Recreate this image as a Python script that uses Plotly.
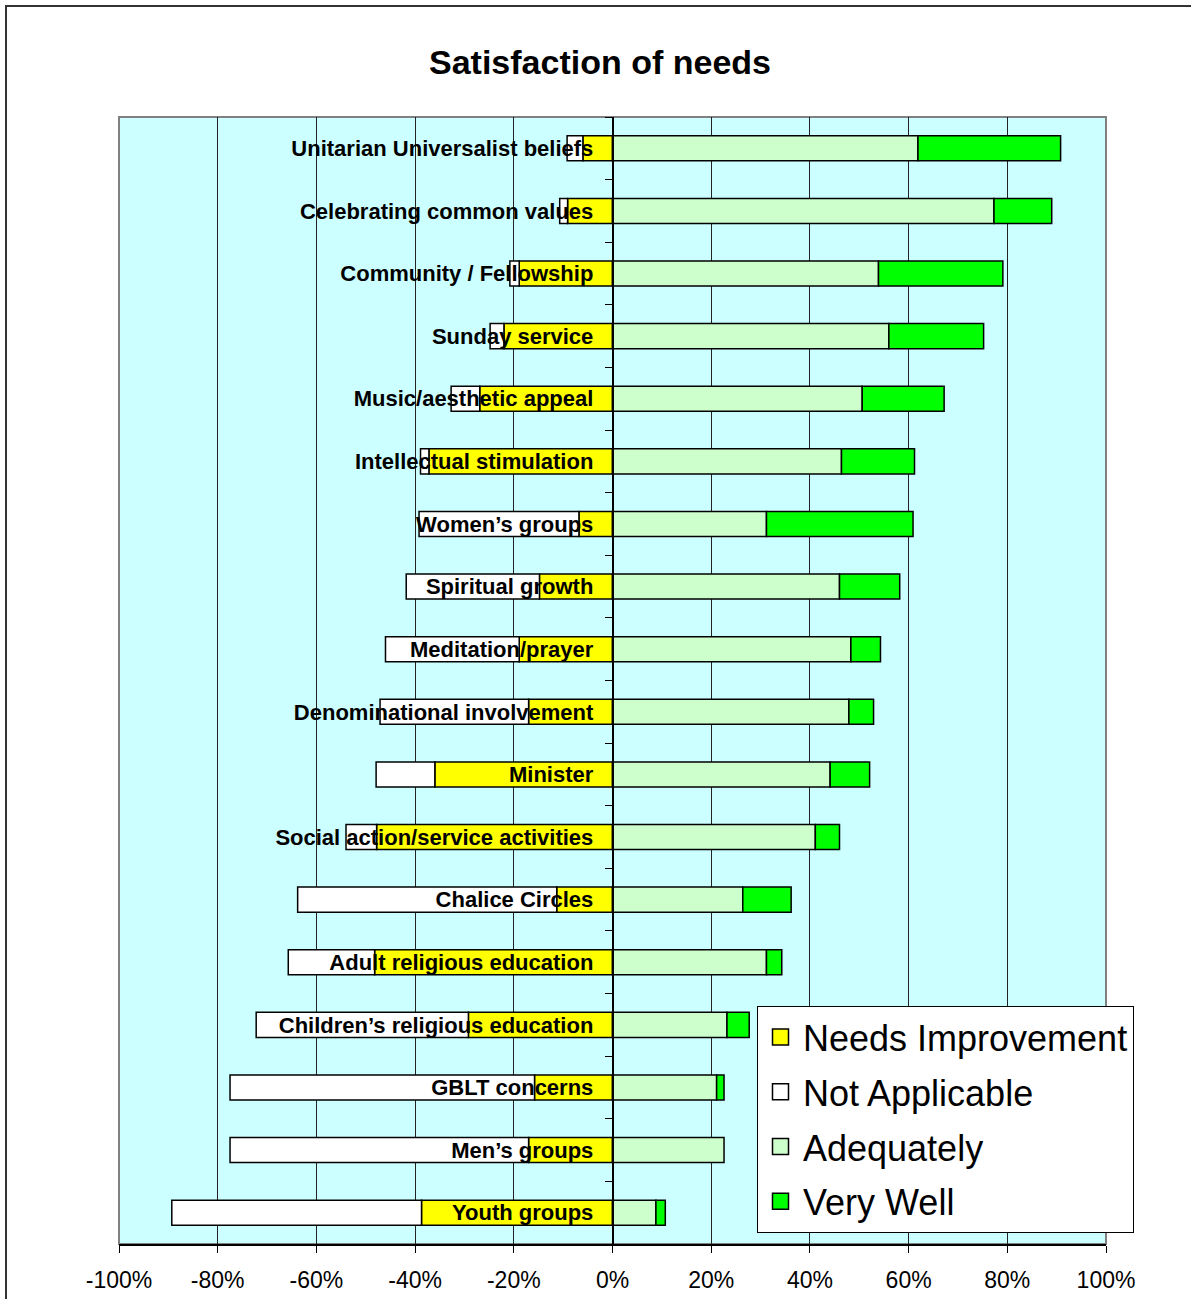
import plotly.graph_objects as go

categories = [
    "Unitarian Universalist beliefs",
    "Celebrating common values",
    "Community / Fellowship",
    "Sunday service",
    "Music/aesthetic appeal",
    "Intellectual stimulation",
    "Women’s groups",
    "Spiritual growth",
    "Meditation/prayer",
    "Denominational involvement",
    "Minister",
    "Social action/service activities",
    "Chalice Circles",
    "Adult religious education",
    "Children’s religious education",
    "GBLT concerns",
    "Men’s groups",
    "Youth groups",
]

# percentages of respondents
needs_improvement = [6.0, 9.1, 18.9, 22.0, 26.9, 37.2, 6.8, 14.8, 18.9, 17.0, 36.0, 47.8, 11.3, 48.2, 29.2, 15.8, 17.0, 38.7]
not_applicable = [3.2, 1.6, 1.9, 2.8, 5.8, 1.7, 32.4, 27.0, 27.1, 30.1, 11.9, 6.2, 52.5, 17.5, 43.0, 61.7, 60.5, 50.6]
adequately = [61.9, 77.3, 53.9, 56.0, 50.6, 46.4, 31.2, 46.0, 48.3, 47.9, 44.1, 41.1, 26.4, 31.2, 23.2, 21.1, 22.6, 8.8]
very_well = [28.9, 11.7, 25.2, 19.2, 16.6, 14.8, 29.7, 12.2, 6.0, 5.0, 8.0, 4.9, 9.8, 3.1, 4.5, 1.5, 0.0, 1.9]

x_ticks = [-1.0, -0.8, -0.6, -0.4, -0.2, 0.0, 0.2, 0.4, 0.6, 0.8, 1.0]
x_tick_labels = ["-100%", "-80%", "-60%", "-40%", "-20%", "0%", "20%", "40%", "60%", "80%", "100%"]

FONT = "Liberation Sans, Arial, sans-serif"

series = [
    ("Needs Improvement", [-v / 100 for v in needs_improvement], "#FFFF00"),
    ("Not Applicable", [-v / 100 for v in not_applicable], "#FFFFFF"),
    ("Adequately", [v / 100 for v in adequately], "#CCFFCC"),
    ("Very Well", [v / 100 if v > 0 else None for v in very_well], "#00FF00"),
]

fig = go.Figure()
for name, vals, color in series:
    fig.add_trace(go.Bar(
        y=categories, x=vals, name=name, orientation="h",
        marker=dict(color=color, line=dict(color="#000000", width=1.5)),
        legendgroup=name, showlegend=False,
        hoverinfo="x+y+name",
    ))
# legend entries with larger square swatches
for name, vals, color in series:
    fig.add_trace(go.Scatter(
        x=[None], y=[None], mode="markers", name=name, legendgroup=name,
        marker=dict(symbol="square", size=16, color=color,
                    line=dict(color="#000000", width=1.5)),
        showlegend=True,
    ))

# screen pixel layout (body margin removed by post_script)
W, H = 1191, 1299
L, R, T, B = 119, 1106, 117, 1244


def px_x(p):
    return (p - L) / (R - L)


def px_y(p):
    return (B - p) / (B - T)


fig.update_layout(
    width=W, height=H,
    margin=dict(l=L, r=W - R, t=T, b=H - B, autoexpand=False),
    paper_bgcolor="#FFFFFF",
    plot_bgcolor="#CCFFFF",
    barmode="relative",
    bargap=0.6,
    font=dict(family=FONT, color="#000000"),
    title=dict(
        text="Satisfaction of needs",
        font=dict(family=FONT, size=34, weight="bold", color="#000000"),
        x=600 / W, xanchor="center", xref="container",
        y=1 - 62 / H, yanchor="middle", yref="container",
    ),
    xaxis=dict(
        range=[-1, 1],
        tickvals=x_ticks,
        ticktext=x_tick_labels,
        showgrid=True, gridcolor="#222222", gridwidth=1,
        zeroline=False,
        showline=True, linecolor="#000000", linewidth=1.5,
        ticks="outside", ticklen=7, tickcolor="#000000",
        tickfont=dict(family=FONT, size=23, color="#000000"),
        ticklabelstandoff=8,
        automargin=False,
        fixedrange=True,
    ),
    yaxis=dict(
        categoryorder="array", categoryarray=categories,
        autorange="reversed",
        anchor="free", position=0.5,
        showline=True, linecolor="#000000", linewidth=1.5,
        showgrid=False, zeroline=False,
        ticks="outside", ticklen=7, tickcolor="#000000", tickson="boundaries",
        tickfont=dict(family=FONT, size=22, weight="bold", color="#000000"),
        ticklabelstandoff=14,
        automargin=False,
        fixedrange=True,
        layer="above traces",
    ),
    legend=dict(
        x=px_x(757), y=px_y(1006), xanchor="left", yanchor="top",
        bgcolor="#FFFFFF", bordercolor="#000000", borderwidth=1,
        font=dict(family=FONT, size=36, color="#000000"),
        traceorder="grouped", tracegroupgap=5, itemwidth=35,
    ),
    showlegend=True,
    shapes=[
        dict(type="rect", xref="paper", yref="paper",
             x0=0, x1=1, y0=0, y1=1,
             line=dict(color="#808080", width=2), layer="below"),
        dict(type="rect", xref="paper", yref="paper",
             x0=px_x(6), x1=px_x(1240), y0=px_y(1350), y1=px_y(6),
             line=dict(color="#333333", width=2), layer="above"),
    ],
)

fig.write_html(
    "out.html",
    config={"displayModeBar": False},
    post_script="document.body.style.margin='0';document.body.style.overflow='hidden';"
                "document.documentElement.style.overflow='hidden';",
)
